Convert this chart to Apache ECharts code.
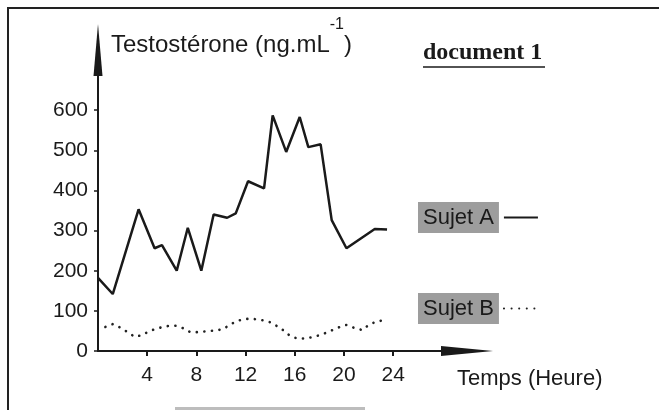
<!DOCTYPE html>
<html>
<head>
<meta charset="utf-8">
<title>document 1</title>
<script src="https://cdn.jsdelivr.net/npm/echarts@6/dist/echarts.min.js"></script>
<style>
	html, body { margin: 0; padding: 0; background: #fff; }
	#main { width: 659px; height: 410px; }
</style>
</head>
<body>
<div id="main"></div>
<script>
	// Sujet A (trait plein) : heure, taux
	var hoursA = [0, 1.2, 3.3, 4.6, 5.2, 6.4, 7.3, 8.4, 9.4, 10.5, 11.2, 12.2, 13.5, 14.2, 15.3, 16.4, 17.1, 18.1, 19.0, 20.2, 22.5, 23.5];
	var valuesA = [182, 142, 353, 256, 264, 200, 307, 200, 340, 332, 343, 423, 405, 587, 496, 583, 508, 515, 326, 256, 304, 303];
	// Sujet B (pointillés)
	var hoursB = [0.6, 1.2, 1.9, 2.4, 3.0, 3.6, 4.2, 4.9, 5.6, 6.3, 6.9, 7.5, 8.2, 9.0, 9.6, 10.2, 10.7, 11.3, 12.0, 12.6, 13.3, 13.9, 14.5, 15.1, 15.6, 16.2, 16.9, 17.6, 18.2, 18.9, 19.5, 20.2, 20.8, 21.5, 22.0, 22.6, 23.3];
	var valuesB = [60, 67, 57, 47, 35, 40, 50, 57, 62, 63, 57, 47, 47, 50, 51, 55, 65, 75, 80, 80, 77, 73, 63, 51, 38, 31, 31, 36, 41, 50, 58, 65, 58, 52, 65, 73, 77];
	// graduations
	var xTicks = [4, 8, 12, 16, 20, 24];
	var yTicks = [0, 100, 200, 300, 400, 500, 600];

	var pairs = function(xs, ys) {
		var out = [];
		for (var i = 0; i < xs.length; i++) {
			out.push([xs[i], ys[i]]);
		}
		return out;
	};

	var font = 'Liberation Sans';
	var ink = '#1a1a1a';

	// légende : étiquette grise puis le trait
	var legendBox = function(name, top) {
		return {
			data: [name],
			left: 418,
			top: top,
			padding: 0,
			align: 'right',
			selectedMode: false,
			itemWidth: 34,
			itemHeight: 14,
			itemStyle: { opacity: 0 },
			textStyle: {
				fontFamily: font, fontSize: 22, color: ink,
				backgroundColor: '#9d9d9d', padding: [5, 5, 4, 5]
			}
		};
	};

	var myChart = echarts.init(document.getElementById('main'));
	var option = {
		backgroundColor: '#fff',
		animation: false,
		title: {
			left: 111,
			top: 17,
			padding: 0,
			text: '{a|Testostérone (ng.mL}{s|-1}{a|)}',
			textStyle: {
				rich: {
					a: { fontFamily: font, fontSize: 24, fontWeight: 'normal', color: ink, lineHeight: 56 },
					s: { fontFamily: font, fontSize: 16, fontWeight: 'normal', color: ink, lineHeight: 16, verticalAlign: 'top' }
				}
			}
		},
		legend: [legendBox('Sujet A', 202), legendBox('Sujet B', 293)],
		grid: {
			left: 98,
			right: 192,
			top: 50,
			bottom: 59
		},
		xAxis: {
			type: 'value',
			min: 0,
			max: 30,
			splitLine: { show: false },
			axisLine: {
				show: true,
				symbol: ['none', 'triangle'],
				symbolSize: [10, 52],
				lineStyle: { color: ink, width: 2 }
			},
			axisTick: {
				show: true,
				length: 5,
				customValues: xTicks,
				lineStyle: { color: ink, width: 2 }
			},
			axisLabel: {
				customValues: xTicks,
				margin: 14,
				fontFamily: font,
				fontSize: 21,
				color: ink
			}
		},
		yAxis: {
			type: 'value',
			min: 0,
			max: 750,
			splitLine: { show: false },
			axisLine: {
				show: true,
				symbol: ['none', 'triangle'],
				symbolSize: [9, 52],
				lineStyle: { color: ink, width: 2 }
			},
			axisTick: {
				show: true,
				length: 4,
				customValues: yTicks,
				lineStyle: { color: ink, width: 1.5 }
			},
			axisLabel: {
				customValues: yTicks,
				margin: 10,
				fontFamily: font,
				fontSize: 21,
				color: ink
			}
		},
		series: [{
			name: 'Sujet A',
			type: 'line',
			symbol: 'none',
			data: pairs(hoursA, valuesA),
			itemStyle: { color: ink },
			lineStyle: { color: ink, width: 2.5 }
		}, {
			name: 'Sujet B',
			type: 'line',
			symbol: 'none',
			data: pairs(hoursB, valuesB),
			itemStyle: { color: ink },
			lineStyle: { color: '#222', width: 2.6, type: [0.1, 7.5], cap: 'round' }
		}],
		graphic: [{
			// cadre du document
			type: 'polyline',
			shape: { points: [[8, 412], [8, 8], [662, 8]] },
			style: { stroke: '#222', lineWidth: 2, fill: null }
		}, {
			type: 'text',
			left: 423,
			top: 41,
			style: {
				text: 'document 1',
				font: 'bold 24px "Liberation Serif"',
				fill: ink
			}
		}, {
			type: 'line',
			shape: { x1: 423, y1: 67, x2: 545, y2: 67 },
			style: { stroke: ink, lineWidth: 1.5 }
		}, {
			type: 'text',
			left: 457,
			top: 368,
			style: {
				text: 'Temps (Heure)',
				font: '22px "Liberation Sans"',
				fill: ink
			}
		}, {
			type: 'rect',
			shape: { x: 175, y: 407, width: 190, height: 4 },
			style: { fill: '#bdbdbd' }
		}]
	};
	myChart.setOption(option);
</script>
</body>
</html>
